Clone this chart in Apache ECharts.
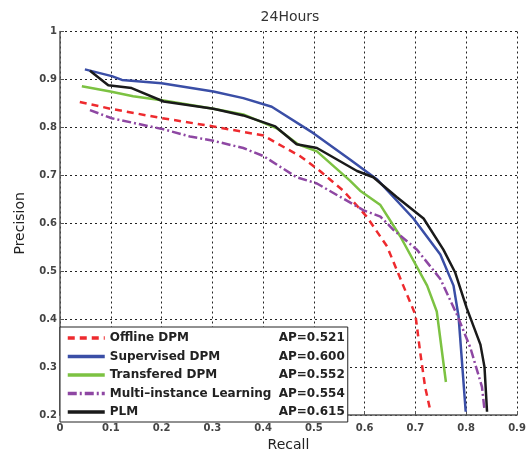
<!DOCTYPE html>
<html><head><meta charset="utf-8">
<script src="https://cdn.jsdelivr.net/npm/echarts@6/dist/echarts.min.js"></script>
<style>html,body{margin:0;padding:0;background:#fff}#c{width:531px;height:457px}</style>
</head><body><div id="c"></div>
<script>
const title = '24Hours';
const xTicks = ['0','0.1','0.2','0.3','0.4','0.5','0.6','0.7','0.8','0.9'];
const names = ['Offline DPM','Supervised DPM','Transfered DPM','Multi\u2013instance Learning','PLM'];
const apValues = ['0.521','0.600','0.552','0.554','0.615'];
const offlineDPM = [[0.039,0.853],[0.099,0.839],[0.197,0.820],[0.302,0.802],[0.401,0.783],[0.427,0.767],[0.473,0.740],[0.512,0.709],[0.558,0.668],[0.604,0.614],[0.644,0.552],[0.676,0.470],[0.700,0.409],[0.709,0.334],[0.719,0.259],[0.729,0.211]];
const supervisedDPM = [[0.049,0.921],[0.102,0.907],[0.122,0.899],[0.200,0.892],[0.302,0.875],[0.361,0.861],[0.417,0.843],[0.499,0.788],[0.571,0.733],[0.624,0.692],[0.696,0.610],[0.749,0.535],[0.775,0.470],[0.785,0.405],[0.799,0.207]];
const transferedDPM = [[0.043,0.886],[0.099,0.875],[0.144,0.865],[0.204,0.856],[0.302,0.839],[0.361,0.827],[0.427,0.798],[0.470,0.764],[0.506,0.750],[0.571,0.689],[0.591,0.668],[0.631,0.638],[0.670,0.573],[0.723,0.470],[0.742,0.416],[0.760,0.269]];
const multiInstance = [[0.059,0.836],[0.102,0.819],[0.164,0.805],[0.204,0.796],[0.256,0.781],[0.302,0.772],[0.361,0.757],[0.401,0.740],[0.466,0.696],[0.506,0.683],[0.552,0.655],[0.598,0.627],[0.631,0.614],[0.657,0.586],[0.703,0.545],[0.749,0.484],[0.782,0.409],[0.808,0.341],[0.831,0.259],[0.836,0.211]];
const plm = [[0.059,0.918],[0.095,0.888],[0.141,0.882],[0.204,0.854],[0.302,0.839],[0.361,0.825],[0.424,0.802],[0.466,0.765],[0.506,0.757],[0.585,0.709],[0.617,0.696],[0.663,0.655],[0.716,0.610],[0.755,0.545],[0.778,0.498],[0.801,0.423],[0.828,0.347],[0.836,0.300],[0.841,0.207]];

const seriesData = [offlineDPM, supervisedDPM, transferedDPM, multiInstance, plm];
const colors = ['#ee2a2e','#3a4ea6','#7cc242','#8e47a3','#1a1a1a'];
const dashes = [[7,5],'solid','solid',[9,3,2,3],'solid'];
const font = '"DejaVu Sans", sans-serif';
const apMap = {};
names.forEach((n,i)=>apMap[n]=apValues[i]);
const legText = {fontFamily:font,fontSize:12,fontWeight:'bold',color:'#222',lineHeight:16};

const chart = echarts.init(document.getElementById('c'));
chart.setOption({
  animation:false,
  title:{text:title,left:285,textAlign:'center',top:5,textStyle:{fontFamily:font,fontSize:14,fontWeight:'normal',color:'#333'}},
  grid:{left:60,right:14,top:31.5,bottom:35},
  xAxis:{type:'value',min:0,max:0.9,interval:0.1,name:'Recall',nameLocation:'middle',nameGap:21,
    nameTextStyle:{fontFamily:font,fontSize:14,color:'#222'},
    axisLine:{onZero:false,lineStyle:{color:'#555',width:1.5}},
    axisTick:{inside:true,length:4,lineStyle:{color:'#555'}},
    axisLabel:{fontFamily:font,fontSize:10,fontWeight:'bold',color:'#444',margin:8,formatter:v=>xTicks[Math.round(v*10)]},
    splitLine:{show:true,lineStyle:{color:'#222',type:[2,3],width:1}}},
  yAxis:{type:'value',min:0.2,max:1,interval:0.1,name:'Precision',nameLocation:'middle',nameGap:33,
    nameTextStyle:{fontFamily:font,fontSize:14,color:'#222'},
    axisLine:{onZero:false,lineStyle:{color:'#555',width:1.5}},
    axisTick:{inside:true,length:4,lineStyle:{color:'#555'}},
    axisLabel:{fontFamily:font,fontSize:10,fontWeight:'bold',color:'#444',margin:3,formatter:v=>Math.abs(v-1)<1e-9?'1':(Math.round(v*10)/10).toString()},
    splitLine:{show:true,lineStyle:{color:'#222',type:[2,3],width:1}}},
  legend:{orient:'vertical',left:60,bottom:35,itemWidth:37,itemHeight:4,itemGap:2.5,
    padding:[3,3,2,6],backgroundColor:'#fff',borderColor:'#222',borderWidth:1,
    data:names,
    itemStyle:{opacity:0},
    lineStyle:{width:3.5},
    formatter:n=>`{n|${n}}{ap|AP=${apMap[n]}}`,
    textStyle:Object.assign({},legText,{
      rich:{n:Object.assign({width:171},legText),
            ap:Object.assign({width:64,align:'right'},legText)}})},
  series:seriesData.map((d,i)=>({
    name:names[i],type:'line',data:d,symbol:'none',z:3+(i===4?1:0),
    lineStyle:{color:colors[i],width:2.5,type:dashes[i]},itemStyle:{color:colors[i]}
  }))
});
</script></body></html>
